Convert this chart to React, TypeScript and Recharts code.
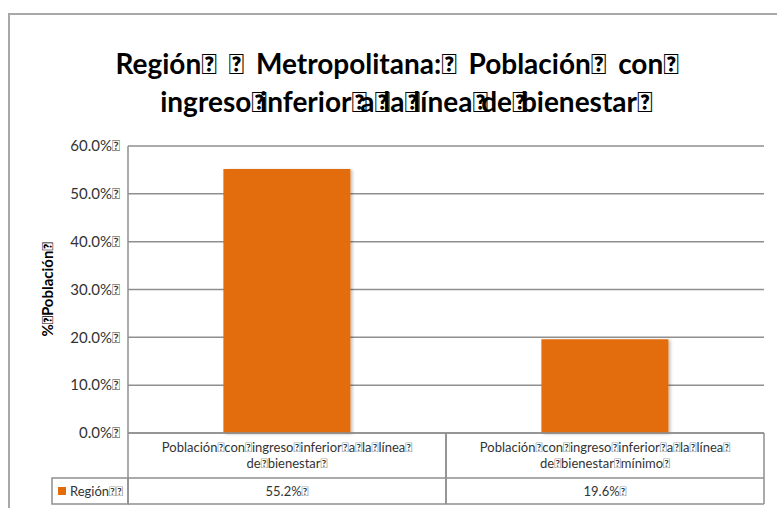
import React from 'react';
import { BarChart, Bar, XAxis, YAxis, CartesianGrid, Label } from 'recharts';

const B = '\uF020';
const titleLines = [
  'Región' + B + B + 'Metropolitana:' + B + 'Población' + B + 'con' + B,
  'ingreso' + B + 'inferior' + B + 'a' + B + 'la' + B + 'línea' + B + 'de' + B + 'bienestar' + B,
];
const yAxisTitle = '%' + B + 'Población' + B;
const categoryKeys = ['bienestar', 'minimo'];
const categoryLines = [
  ['Población' + B + 'con' + B + 'ingreso' + B + 'inferior' + B + 'a' + B + 'la' + B + 'línea' + B, 'de' + B + 'bienestar' + B],
  ['Población' + B + 'con' + B + 'ingreso' + B + 'inferior' + B + 'a' + B + 'la' + B + 'línea' + B, 'de' + B + 'bienestar' + B + 'mínimo' + B],
];
const seriesName = 'Región' + B + B;
const seriesValues = [55.2, 19.6];
const yTicks = [0, 10, 20, 30, 40, 50, 60];

const data = categoryKeys.map((k, i) => ({ key: k, value: seriesValues[i] }));

const FONT = 'Lato, "Open Sans", sans-serif';
const LINE = '#8f8f8f';
const ORANGE = '#E36C0A';

// HTML text with box glyphs whose advance is adjusted
const htmlBoxed = (text: string, spacing: number) => {
  const parts = text.split(B);
  return parts.map((p, k) => (
    <React.Fragment key={k}>
      {p}
      {k < parts.length - 1 && <span style={{ letterSpacing: spacing }}>{B}</span>}
    </React.Fragment>
  ));
};

const TableTick = (props: any) => {
  const { x, y, payload, width, visibleTicksCount } = props;
  const i = categoryKeys.indexOf(payload.value);
  const half = width / (2 * (visibleTicksCount || categoryKeys.length));
  const left = x - half;
  const right = x + half;
  const headerH = 45;
  const rowH = 26;
  const lines = categoryLines[i];
  return (
    <g>
      <line x1={left} y1={y} x2={left} y2={y + headerH + rowH} stroke={LINE} strokeWidth={1.5} />
      <line x1={right} y1={y} x2={right} y2={y + headerH + rowH} stroke={LINE} strokeWidth={1.5} />
      <line x1={left} y1={y + headerH} x2={right} y2={y + headerH} stroke={LINE} strokeWidth={1.5} />
      <line x1={left} y1={y + headerH + rowH} x2={right} y2={y + headerH + rowH} stroke={LINE} strokeWidth={1.5} />
      {lines.map((t, j) => (
        <text key={j} x={x} y={y + 14 + j * 16} textAnchor="middle" dominantBaseline="central" fontSize={13} fill="#333" fontFamily={FONT}>
          {t}
        </text>
      ))}
      <text x={x} y={y + headerH + rowH / 2} textAnchor="middle" dominantBaseline="central" fontSize={13} fill="#333" fontFamily={FONT}>
        {seriesValues[i].toFixed(1) + '%' + B}
      </text>
      {i === 0 && (
        <g>
          <rect x={left - 76} y={y + headerH} width={76} height={rowH} fill="none" stroke={LINE} strokeWidth={1.5} />
          <rect x={left - 70} y={y + headerH + rowH / 2 - 4} width={8} height={8} fill={ORANGE} />
          <text x={left - 58} y={y + headerH + rowH / 2} dominantBaseline="central" fontSize={13} fill="#333" fontFamily={FONT}>
            {seriesName}
          </text>
        </g>
      )}
    </g>
  );
};

const YTitle = (props: any) => {
  const vb = props.viewBox || { x: 0, y: 146, width: 128, height: 287 };
  const cx = vb.x + 47;
  const cy = vb.y + vb.height / 2;
  return (
    <text x={cx} y={cy} transform={`rotate(-90 ${cx} ${cy})`} textAnchor="middle" dominantBaseline="central" fontSize={15} fontWeight="bold" fill="#000" fontFamily={FONT}>
      {yAxisTitle}
    </text>
  );
};

export default function App() {
  return (
    <div style={{ position: 'absolute', left: 0, top: 0, width: 777, height: 508, overflow: 'hidden', background: '#fff', fontFamily: FONT }}>
      <div style={{ position: 'absolute', left: 8, top: 13, width: 800, height: 520, border: '2px solid #a8a8a8', boxSizing: 'border-box' }} />
      <div style={{ position: 'absolute', left: 0, top: 44, width: 806, textAlign: 'center', fontSize: 28, fontWeight: 'bold', lineHeight: '38px', color: '#000', whiteSpace: 'nowrap' }}>
        <div>{htmlBoxed(titleLines[0], 12)}</div>
        <div>{htmlBoxed(titleLines[1], -6.5)}</div>
      </div>
      <div style={{ position: 'absolute', left: 0, top: 0 }}>
        <BarChart width={777} height={508} data={data} margin={{ top: 146, right: 13, bottom: 0, left: 0 }} barCategoryGap="30%">
          <defs>
            <filter id="barShadow" x="-10%" y="-10%" width="130%" height="130%">
              <feDropShadow dx="2" dy="1" stdDeviation="1.5" floodColor="#000" floodOpacity="0.25" />
            </filter>
          </defs>
          <CartesianGrid vertical={false} stroke={LINE} strokeWidth={1.5} />
          <XAxis dataKey="key" height={75} tickSize={0} tickMargin={0} axisLine={{ stroke: LINE, strokeWidth: 1.5 }} tickLine={false} tick={<TableTick />} interval={0} />
          <YAxis
            width={128}
            domain={[0, 60]}
            ticks={yTicks}
            tickFormatter={(v: number) => v.toFixed(1) + '%' + B}
            axisLine={{ stroke: LINE, strokeWidth: 1.5 }}
            tickLine={false}
            tick={{ fontSize: 15, fill: '#333', fontFamily: FONT }}
            interval={0}
          >
            <Label content={<YTitle />} />
          </YAxis>
          <Bar dataKey="value" fill={ORANGE} isAnimationActive={false} filter="url(#barShadow)" />
        </BarChart>
      </div>
    </div>
  );
}
